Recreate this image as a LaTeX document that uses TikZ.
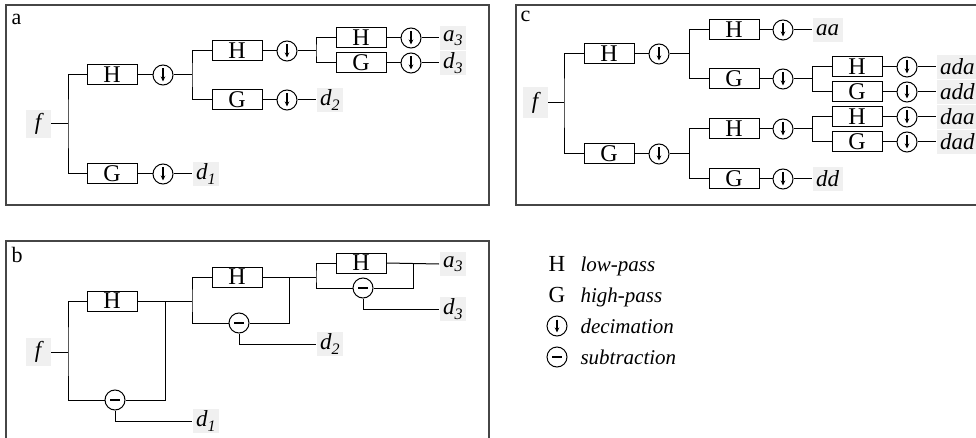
\documentclass[tikz,border=0pt]{standalone}
\usepackage{fontspec}
\setmainfont{Liberation Serif}
\usetikzlibrary{arrows.meta}
\newcommand{\lsub}[1]{\raisebox{-4.5pt}{\fontsize{16}{16}\selectfont #1}}
\begin{document}
\begin{tikzpicture}[x=1pt,y=-1pt,line width=1pt,
  filt/.style={draw, minimum width=50pt, minimum height=20pt, inner sep=0pt, font=\fontsize{24}{24}\selectfont},
  dec/.style={draw, circle, minimum size=20pt, inner sep=0pt,
    path picture={\draw[line width=1.1pt,-{Stealth[length=5pt,width=4.5pt]}] ([yshift=6.5pt]path picture bounding box.center) -- ([yshift=-6.5pt]path picture bounding box.center);}},
  subt/.style={draw, circle, minimum size=20pt, inner sep=0pt,
    path picture={\draw[line width=2.2pt] ([xshift=-5pt]path picture bounding box.center) -- ([xshift=5pt]path picture bounding box.center);}},
  lab/.style={fill=gray!12, inner xsep=3.5pt, inner ysep=0pt, minimum height=24pt, font=\fontsize{23}{23}\selectfont\itshape},
  flab/.style={lab, minimum width=25pt, minimum height=28pt},
  frame/.style={draw=gray!55!black, line width=1.3pt},
  panel/.style={font=\fontsize{22}{22}\selectfont, anchor=base west, inner sep=0pt},
  legt/.style={font=\fontsize{21}{21}\selectfont\itshape, anchor=base west, inner sep=0pt},
  legs/.style={font=\fontsize{23}{23}\selectfont, anchor=base, inner sep=0pt}
]
\useasboundingbox (0,0) rectangle (976,438);
% frames
\draw[frame] (6,5) rectangle (489,205);
\draw[frame] (6,241) rectangle (489,450);
\draw[frame] (516,5) rectangle (990,205);
\node[panel] (pa) at (11,25) {a};
\node[panel] (pb) at (11,262) {b};
\node[panel] (pc) at (520,22) {c};

% ---------------- panel a
\node[flab] (fa) at (38,124) {f};
\coordinate (ja) at (68,124);
\node[filt] (Ha1) at (112,75) {H};
\node[dec] (Da1) at (163,75) {};
\coordinate (ka) at (192,75);
\node[filt] (Ha2) at (237,51) {H};
\node[dec] (Da2) at (287,51) {};
\coordinate (la) at (316,51);
\node[filt] (Ha3) at (361,38) {H};
\node[dec] (Da3) at (411,38) {};
\node[lab, anchor=west] (a3a) at (439,38) {a\lsub{3}};
\node[filt] (Ga3) at (361,63) {G};
\node[dec] (Dg3) at (411,63) {};
\node[lab, anchor=west] (d3a) at (439,63) {d\lsub{3}};
\node[filt] (Ga2) at (237,100) {G};
\node[dec] (Dg2) at (287,100) {};
\node[lab, anchor=west] (d2a) at (316,100) {d\lsub{2}};
\node[filt] (Ga1) at (112,174) {G};
\node[dec] (Dg1) at (163,174) {};
\node[lab, anchor=west] (d1a) at (192,174) {d\lsub{1}};

\draw (fa) -- (ja);
\draw (Ha1.west) -| (ja) |- (Ga1.west);
\draw (Ha1) -- (Da1);
\draw (Da1) -- (ka);
\draw (Ha2.west) -| (ka) |- (Ga2.west);
\draw (Ha2) -- (Da2);
\draw (Da2) -- (la);
\draw (Ha3.west) -| (la) |- (Ga3.west);
\draw (Ha3) -- (Da3);
\draw (Da3) -- (a3a);
\draw (Ga3) -- (Dg3);
\draw (Dg3) -- (d3a);
\draw (Ga2) -- (Dg2);
\draw (Dg2) -- (d2a);
\draw (Ga1) -- (Dg1);
\draw (Dg1) -- (d1a);

% ---------------- panel b
\node[flab] (fb) at (38,352) {f};
\coordinate (jb) at (68,352);
\node[filt] (Hb1) at (112,301) {H};
\node[subt] (Sb1) at (115,400) {};
\coordinate (kb) at (165,301);
\coordinate (mb) at (192,301);
\node[lab, anchor=west] (d1b) at (192,421) {d\lsub{1}};
\node[filt] (Hb2) at (237,277) {H};
\node[subt] (Sb2) at (239,323) {};
\coordinate (pb) at (289,277);
\coordinate (ob) at (316,277);
\node[lab, anchor=west] (d2b) at (316,344) {d\lsub{2}};
\node[filt] (Hb3) at (361,263) {H};
\node[subt] (Sb3) at (363,288) {};
\coordinate (qb) at (413,263);
\node[lab, anchor=west] (a3b) at (439,264) {a\lsub{3}};
\node[lab, anchor=west] (d3b) at (439,309) {d\lsub{3}};

\draw (fb) -- (jb);
\draw (Hb1.west) -| (jb) |- (Sb1.west);
\draw (Hb1.east) -- (mb);
\draw (kb) |- (Sb1.east);
\draw (Sb1.south) |- (d1b.west);
\draw (Hb2.west) -| (mb) |- (Sb2.west);
\draw (Hb2.east) -- (ob);
\draw (pb) |- (Sb2.east);
\draw (Sb2.south) |- (d2b.west);
\draw (Hb3.west) -| (ob) |- (Sb3.west);
\draw (Hb3.east) -- (a3b.west);
\draw (qb) |- (Sb3.east);
\draw (Sb3.south) |- (d3b.west);

% ---------------- panel c
\node[flab, minimum height=31pt] (fc) at (535,103) {f};
\coordinate (jc) at (564,103);
\node[filt] (Hc1) at (609,54) {H};
\node[dec] (Dc1) at (659,54) {};
\coordinate (kc1) at (689,54);
\node[filt] (Gc1) at (609,154) {G};
\node[dec] (Ec1) at (659,154) {};
\coordinate (kc2) at (689,154);
% upper second level
\node[filt] (Hc2) at (734,30) {H};
\node[dec] (Dc2) at (783,30) {};
\node[lab, anchor=west] (aa) at (812,30) {aa};
\node[filt] (Gc2) at (734,79) {G};
\node[dec] (Ec2) at (783,79) {};
\coordinate (lc1) at (812,79);
\node[filt] (Hc3) at (857,67) {H};
\node[dec] (Dc3) at (907,67) {};
\node[lab, anchor=west] (ada) at (936,67) {ada};
\node[filt] (Gc3) at (857,92) {G};
\node[dec] (Ec3) at (907,92) {};
\node[lab, anchor=west] (add) at (936,92) {add};
% lower second level
\node[filt] (Hc4) at (734,129) {H};
\node[dec] (Dc4) at (783,129) {};
\coordinate (lc2) at (812,129);
\node[filt] (Hc5) at (857,117) {H};
\node[dec] (Dc5) at (907,117) {};
\node[lab, anchor=west] (daa) at (936,117) {daa};
\node[filt] (Gc5) at (857,142) {G};
\node[dec] (Ec5) at (907,142) {};
\node[lab, anchor=west] (dad) at (936,142) {dad};
\node[filt] (Gc4) at (734,179) {G};
\node[dec] (Ec4) at (783,179) {};
\node[lab, anchor=west] (dd) at (812,179) {dd};

\draw (fc) -- (jc);
\draw (Hc1.west) -| (jc) |- (Gc1.west);
\draw (Hc1) -- (Dc1);
\draw (Dc1) -- (kc1);
\draw (Gc1) -- (Ec1);
\draw (Ec1) -- (kc2);
\draw (Hc2.west) -| (kc1) |- (Gc2.west);
\draw (Hc2) -- (Dc2);
\draw (Dc2) -- (aa);
\draw (Gc2) -- (Ec2);
\draw (Ec2) -- (lc1);
\draw (Hc3.west) -| (lc1) |- (Gc3.west);
\draw (Hc3) -- (Dc3);
\draw (Dc3) -- (ada);
\draw (Gc3) -- (Ec3);
\draw (Ec3) -- (add);
\draw (Hc4.west) -| (kc2) |- (Gc4.west);
\draw (Hc4) -- (Dc4);
\draw (Dc4) -- (lc2);
\draw (Hc5.west) -| (lc2) |- (Gc5.west);
\draw (Hc5) -- (Dc5);
\draw (Dc5) -- (daa);
\draw (Gc5) -- (Ec5);
\draw (Ec5) -- (dad);
\draw (Gc4) -- (Ec4);
\draw (Ec4) -- (dd);

% ---------------- legend
\node[legs] (lH) at (557,271) {H};
\node[legt] (tH) at (580,271) {low-pass};
\node[legs] (lG) at (557,302) {G};
\node[legt] (tG) at (580,302) {high-pass};
\node[dec] (lD) at (557,326) {};
\node[legt] (tD) at (580,333) {decimation};
\node[subt] (lS) at (557,357) {};
\node[legt] (tS) at (580,364) {subtraction};
\end{tikzpicture}
\end{document}
